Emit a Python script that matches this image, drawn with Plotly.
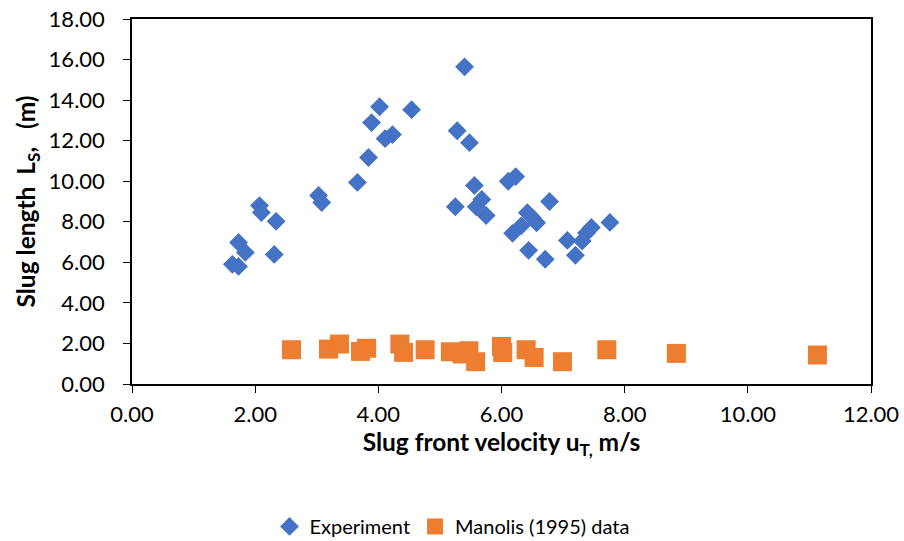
import plotly.graph_objects as go

exp_x = [1.63, 1.73, 1.73, 1.84, 2.07, 2.10, 2.34, 2.31, 3.03, 3.08, 3.66, 3.84, 3.89, 4.02,
         4.11, 4.23, 4.54, 5.40, 5.28, 5.48, 5.25, 5.56, 5.59, 5.68, 5.75, 6.11, 6.23, 6.18,
         6.32, 6.42, 6.50, 6.57, 6.44, 6.71, 6.78, 7.07, 7.20, 7.31, 7.38, 7.46, 7.76]
exp_y = [5.90, 5.80, 6.98, 6.49, 8.80, 8.46, 8.02, 6.39, 9.30, 8.95, 9.94, 11.17, 12.89, 13.67,
         12.10, 12.30, 13.53, 15.64, 12.49, 11.90, 8.74, 9.79, 8.74, 9.10, 8.31, 10.00, 10.23, 7.43,
         7.80, 8.45, 8.20, 7.95, 6.59, 6.15, 9.00, 7.08, 6.35, 7.05, 7.45, 7.72, 7.97]

man_x = [2.59, 3.19, 3.37, 3.71, 3.81, 4.35, 4.41, 4.76, 5.17, 5.36, 5.47, 5.58,
         6.00, 6.02, 6.40, 6.53, 6.99, 7.71, 8.84, 11.13]
man_y = [1.69, 1.72, 1.97, 1.61, 1.76, 1.97, 1.56, 1.69, 1.59, 1.48, 1.64, 1.10,
         1.85, 1.55, 1.69, 1.31, 1.10, 1.69, 1.51, 1.43]

x_ticks = [0, 2, 4, 6, 8, 10, 12]
y_ticks = [0, 2, 4, 6, 8, 10, 12, 14, 16, 18]

FONT = "Lato"

fig = go.Figure()
fig.add_trace(go.Scatter(
    x=exp_x, y=exp_y, mode="markers", name="Experiment",
    marker=dict(symbol="diamond", size=14.5, color="#4472C4", line=dict(width=0)),
))
fig.add_trace(go.Scatter(
    x=man_x, y=man_y, mode="markers", name="Manolis (1995) data",
    marker=dict(symbol="square", size=19, color="#ED7D31", line=dict(width=0)),
))

axis_common = dict(
    showgrid=False, zeroline=False, showline=True, mirror=True,
    linecolor="black", linewidth=1.5, ticks="outside", ticklen=7,
    tickcolor="black", tickwidth=1.2, automargin=False,
    tickfont=dict(family=FONT, size=22, color="black"),
)

fig.update_layout(
    width=904, height=541,
    margin=dict(l=132, r=33, t=19, b=157),
    paper_bgcolor="white", plot_bgcolor="white",
    font=dict(family=FONT, color="black"),
    xaxis=dict(
        range=[0, 12], tickvals=x_ticks,
        ticktext=[f"{v:.2f}" for v in x_ticks],
        ticklabelstandoff=3,
        title=dict(text="<b>Slug front velocity u<sub>T,</sub> m/s</b>",
                   font=dict(family=FONT, size=24.5, color="black"), standoff=6),
        **axis_common,
    ),
    yaxis=dict(
        range=[0, 18], tickvals=y_ticks,
        ticktext=[f"{v:.2f}" for v in y_ticks],
        ticklabelstandoff=14,
        title=dict(text="<b>Slug length  L<sub>S</sub>,   (m)</b>",
                   font=dict(family=FONT, size=24.5, color="black"), standoff=6),
        **axis_common,
    ),
    showlegend=True,
    legend=dict(
        orientation="h", xref="container", x=0.5, xanchor="center",
        yref="container", y=0.027, yanchor="middle",
        font=dict(family=FONT, size=20, color="black"),
        itemwidth=30,
    ),
)

fig.write_html("out.html")
